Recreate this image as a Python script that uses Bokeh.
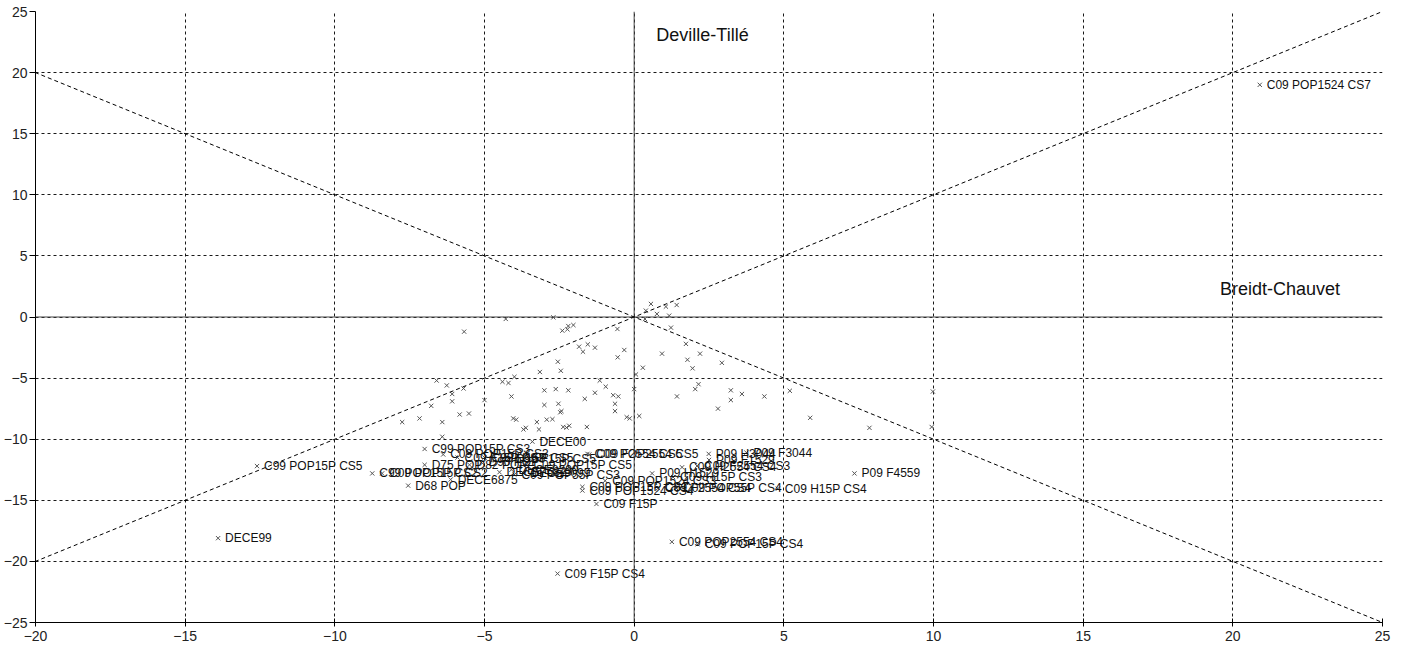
from bokeh.plotting import figure
from bokeh.models import Range1d, FixedTicker, Span, Slope, ColumnDataSource
from bokeh.core.properties import value
from bokeh.embed import file_html
from bokeh.resources import INLINE

# ---- data: unlabeled points ----
pts_x = [0.56, 0.39, 1.06, 1.42, 0.76, 1.17, 0.36, -4.29, -2.70, -5.68,
         -2.4, -2.23, -2.03, -2.2, -0.56, 1.23,
         -1.84, -1.55, -1.71, -1.31,
         -0.33, -0.55, 0.93, 1.73, 1.78, 0.29, 0.06,
         -2.55, -2.45, -3.15, -4.0, -4.4, -4.2, -6.6, -6.26, -5.7, -6.08, -6.08, -6.78,
         -7.75, -7.17, -6.41, -5.83, -5.52, -5.0, -4.1, -3.0, -2.62, -2.2, -3.0,
         -2.53, -2.43, -2.47, -1.65, -1.31, -1.15, -0.95, -0.7, -0.53, -0.64, -0.64,
         0.0, -0.25, -0.15, 0.17, -4.04, -3.94, -3.62, -3.7, -3.25, -3.18, -2.92, -2.73,
         -2.37, -2.17, -2.26, -1.58, -6.41,
         2.2, 1.95, 2.93, 2.15, 2.04, 1.43, 3.23, 3.23, 3.6, 4.35, 2.8, 5.2, 5.88,
         7.86, 9.98, 9.94]
pts_y = [1.07, 0.52, 0.85, 0.98, 0.25, 0.11, -0.16, -0.16, -0.03, -1.2,
         -1.12, -1.01, -0.66, -0.74, -0.98, -0.87,
         -2.43, -2.24, -2.84, -2.51,
         -2.7, -3.3, -3.0, -2.2, -3.5, -4.15, -4.7,
         -3.66, -4.4, -4.5, -4.9, -5.3, -5.4, -5.2, -5.6, -5.85, -6.3, -6.9, -7.27,
         -8.6, -8.3, -8.6, -7.98, -7.9, -6.8, -6.5, -6.0, -5.9, -6.0, -7.2,
         -7.1, -7.7, -7.8, -6.7, -6.2, -5.2, -5.7, -6.4, -6.5, -7.1, -7.7,
         -5.9, -8.2, -8.3, -8.1, -8.3, -8.4, -9.07, -9.2, -8.6, -9.2, -8.4, -8.36,
         -9.0, -8.9, -9.05, -9.0, -9.8,
         -3.0, -4.2, -3.75, -5.5, -5.9, -6.5, -6.0, -6.8, -6.3, -6.5, -7.5, -6.04, -8.25,
         -9.07, -6.1, -9.0]

# ---- data: labeled points ----
lab_names = ["C09 POP1524 CS7", "C99 POP15P CS5", "DECE99", "C09 F15P CS4",
             "C09 POP2554 CS4", "C09 POP15P CS4", "DECE00",
             "C99 POP15P CS2", "C09 POP15P CS2", "D68 POP", "C99 POP15P CS3",
             "C09 POP15P CS3", "D75 POP", "DECE6875",
             "C09 F15P CS3", "D82 POP", "D90 POP", "C99 H15P CS5", "C99 F15P CS5",
             "DECE7582", "DECE8290", "DECE9099", "C09 POP15P CS5", "C09 POP55P CS3",
             "C09 POP2554 CS5", "C09 F2554 CS5", "P09 H3044", "P09 F3044",
             "P09 F1529", "C09 H2554 CS4", "C09 F2554 CS3", "P09 H1529", "C09 H15P CS3",
             "C09 POP1524 CS3", "C09 POP15P CS1", "C09 POP1524 CS4",
             "C09 F2554 CS4", "C09 POP55P CS4", "C09 H15P CS4", "P09 F4559", "C09 F15P"]
lab_x = [20.9, -12.6, -13.9, -2.56,
         1.26, 2.12, -3.4,
         -8.75, -8.42, -7.55, -7.0,
         -6.38, -7.0, -6.13,
         -5.9, -5.5, -5.1, -5.0, -4.2,
         -4.5, -4.1, -3.7, -3.6, -4.0,
         -1.56, -1.5, 2.49, 3.75,
         2.5, 1.6, 2.1, 0.6, 1.3,
         -0.97, -1.73, -1.73,
         0.8, 1.4, 4.8, 7.36, -1.26]
lab_y = [19.0, -12.2, -18.1, -21.0,
         -18.4, -18.6, -10.2,
         -12.8, -12.8, -13.8, -10.8,
         -11.25, -12.1, -13.3,
         -11.5, -12.1, -11.9, -11.5, -11.6,
         -12.7, -12.5, -12.8, -12.1, -12.9,
         -11.2, -11.25, -11.2, -11.1,
         -11.7, -12.3, -12.2, -12.8, -13.1,
         -13.4, -13.9, -14.2,
         -14.0, -14.0, -14.05, -12.8, -15.3]

x_ticks = [-20, -15, -10, -5, 0, 5, 10, 15, 20, 25]
y_ticks = [-25, -20, -15, -10, -5, 0, 5, 10, 15, 20, 25]

axis_titles = ["Deville-Tillé", "Breidt-Chauvet"]
axis_title_x = [0.74, 19.57]
axis_title_y = [23.1, 2.3]

p = figure(width=1398, height=646, output_backend="svg", toolbar_location=None,
           x_range=Range1d(-20, 25), y_range=Range1d(-25, 25),
           min_border_left=29, min_border_right=16, min_border_top=11, min_border_bottom=24)
p.outline_line_color = None
p.background_fill_color = "white"
p.border_fill_color = "white"

for ax, ticks in ((p.xaxis[0], x_ticks), (p.yaxis[0], y_ticks)):
    ax.ticker = FixedTicker(ticks=ticks)
    ax.axis_line_color = "black"
    ax.major_tick_line_color = "black"
    ax.minor_tick_line_color = None
    ax.major_label_text_font = "Liberation Sans"
    ax.major_label_text_font_size = "14px"
    ax.major_label_text_color = "#222222"
p.xaxis.major_tick_in = 4
p.xaxis.major_tick_out = 4
p.xaxis.major_label_standoff = 4
p.yaxis.major_tick_in = 0
p.yaxis.major_tick_out = 6
p.yaxis.major_label_standoff = 2

for g, ticks in ((p.xgrid[0], x_ticks), (p.ygrid[0], y_ticks)):
    g.ticker = FixedTicker(ticks=ticks)
    g.grid_line_color = "black"
    g.grid_line_dash = "3 3"
    g.grid_line_alpha = 0.9

p.add_layout(Span(location=0, dimension="width", line_color="#444444", line_width=1))
p.add_layout(Span(location=0, dimension="height", line_color="#444444", line_width=1))
p.add_layout(Slope(gradient=1, y_intercept=0, line_color="black", line_dash="4 3", line_width=1))
p.add_layout(Slope(gradient=-1, y_intercept=0, line_color="black", line_dash="4 3", line_width=1))

p.scatter(pts_x, pts_y, marker="x", size=6, line_color="#555555", line_width=1)

src = ColumnDataSource(dict(x=lab_x, y=lab_y, t=lab_names))
p.scatter("x", "y", source=src, marker="x", size=6, line_color="#555555", line_width=1)
p.text("x", "y", text="t", source=src, x_offset=7, text_baseline="middle", text_align="left",
       text_font=value("Liberation Sans"), text_font_size="12px", text_color="#111111")

p.text(axis_title_x, axis_title_y, text=axis_titles, text_baseline="middle", text_align="left",
       text_font=value("Liberation Sans"), text_font_size="18px", text_color="#111111")

open("out.html", "w").write(file_html(p, INLINE))
